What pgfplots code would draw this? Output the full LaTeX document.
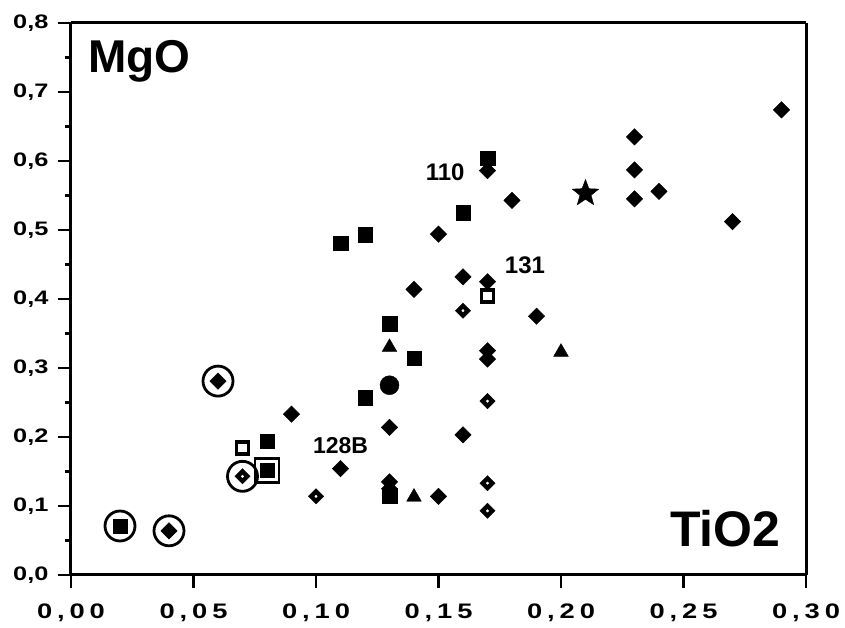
\documentclass[border=0pt]{standalone}
\usepackage{pgfplots}
\pgfplotsset{compat=1.18}
\usepackage{fontspec}
\setmainfont{Liberation Sans}
\newfontfamily\spaced[LetterSpace=18]{Liberation Sans}
% wide bold labels, as in the scanned figure
\newcommand\ytl[1]{\scalebox{1.3}[1]{\fontsize{19.5}{19.5}\selectfont\bfseries #1}}
\newcommand\xtl[1]{\scalebox{1.3}[1]{\fontsize{21}{21}\selectfont\spaced\bfseries #1}}

% filled five-pointed star
\pgfdeclareplotmark{fstar}{%
  \pgfpathmoveto{\pgfpointpolar{90}{\pgfplotmarksize}}%
  \pgfpathlineto{\pgfpointpolar{126}{0.42\pgfplotmarksize}}%
  \pgfpathlineto{\pgfpointpolar{162}{\pgfplotmarksize}}%
  \pgfpathlineto{\pgfpointpolar{198}{0.42\pgfplotmarksize}}%
  \pgfpathlineto{\pgfpointpolar{234}{\pgfplotmarksize}}%
  \pgfpathlineto{\pgfpointpolar{270}{0.42\pgfplotmarksize}}%
  \pgfpathlineto{\pgfpointpolar{306}{\pgfplotmarksize}}%
  \pgfpathlineto{\pgfpointpolar{342}{0.42\pgfplotmarksize}}%
  \pgfpathlineto{\pgfpointpolar{18}{\pgfplotmarksize}}%
  \pgfpathlineto{\pgfpointpolar{54}{0.42\pgfplotmarksize}}%
  \pgfpathclose
  \pgfusepathqfillstroke}

\begin{document}
\begin{tikzpicture}
\begin{axis}[
    width=735pt, height=552pt, scale only axis,
    xmin=0, xmax=0.30, ymin=0, ymax=0.8,
    clip=false,
    separate axis lines,
    axis line style={line width=3pt},
    xtick={0,0.05,0.10,0.15,0.20,0.25,0.30},
    xticklabels={\xtl{0,00},\xtl{0,05},\xtl{0,10},\xtl{0,15},\xtl{0,20},\xtl{0,25},\xtl{0,30}},
    ytick={0,0.1,0.2,0.3,0.4,0.5,0.6,0.7,0.8},
    yticklabels={\ytl{0,0},\ytl{0,1},\ytl{0,2},\ytl{0,3},\ytl{0,4},\ytl{0,5},\ytl{0,6},\ytl{0,7},\ytl{0,8}},
    minor ytick={0.05,0.15,0.25,0.35,0.45,0.55,0.65,0.75},
    xtick pos=left, ytick pos=left,
    tick align=outside,
    major tick length=13pt, minor tick length=6pt,
    every tick/.style={black, line width=2.5pt},
    yticklabel style={xshift=-6pt},
    xticklabel style={yshift=-12pt},
]
% rings and box around some samples
\addplot[only marks, mark=o, mark size=15pt, mark options={line width=2.8pt, black}] coordinates {
    (0.02,0.071) (0.04,0.064) (0.06,0.281) (0.07,0.143)
};
\addplot[only marks, mark=square, mark size=12pt, mark options={line width=2.8pt, black, rounded corners=2pt}] coordinates {
    (0.08,0.152)
};
% filled diamonds
\addplot[only marks, mark=square*, mark size=5.8pt, mark options={rotate=45, rounded corners=1.5pt, fill=black, draw=black}] coordinates {
    (0.04,0.064) (0.06,0.281) (0.09,0.233) (0.11,0.154)
    (0.13,0.214) (0.13,0.135) (0.13,0.125) (0.14,0.414)
    (0.15,0.114) (0.15,0.494) (0.16,0.432) (0.16,0.203)
    (0.17,0.586) (0.17,0.425) (0.17,0.325) (0.17,0.313)
    (0.18,0.543) (0.19,0.375) (0.23,0.635) (0.23,0.587)
    (0.23,0.545) (0.24,0.556) (0.27,0.512) (0.29,0.674)
};
% diamonds with a small open centre
\addplot[only marks, mark=square*, mark size=5.4pt, mark options={rotate=45, rounded corners=1.5pt, fill=black, draw=black}] coordinates {
    (0.07,0.143) (0.10,0.114) (0.16,0.383) (0.17,0.252)
    (0.17,0.133) (0.17,0.093)
};
\addplot[only marks, mark=*, mark size=1.2pt, mark options={fill=white, draw=white}] coordinates {
    (0.07,0.143) (0.10,0.114) (0.16,0.383) (0.17,0.252)
    (0.17,0.133) (0.17,0.093)
};
% filled squares
\addplot[only marks, mark=square*, mark size=7.2pt, mark options={rounded corners=1.5pt, fill=black, draw=black}] coordinates {
    (0.02,0.071) (0.08,0.194) (0.08,0.152) (0.11,0.481)
    (0.12,0.493) (0.12,0.257) (0.13,0.364) (0.13,0.115)
    (0.14,0.314) (0.16,0.525) (0.17,0.604)
};
% open squares
\addplot[only marks, mark=square*, mark size=6pt, mark options={fill=white, draw=black, line width=3.5pt}] coordinates {
    (0.07,0.184) (0.17,0.404)
};
% triangles
\addplot[only marks, mark=triangle*, mark size=8.5pt, mark options={rounded corners=1.5pt, fill=black, draw=black}] coordinates {
    (0.13,0.33) (0.14,0.113) (0.20,0.323)
};
% circle
\addplot[only marks, mark=*, mark size=9.5pt, mark options={fill=black, draw=black}] coordinates {
    (0.13,0.275)
};
% star
\addplot[only marks, mark=fstar, mark size=14pt, mark options={fill=black, draw=black, line join=round}] coordinates {
    (0.21,0.553)
};

\node[font=\fontsize{24}{24}\selectfont\bfseries] at (axis cs:0.1527,0.583) {110};
\node[font=\fontsize{24}{24}\selectfont\bfseries] at (axis cs:0.1853,0.449) {131};
\node[font=\fontsize{23}{23}\selectfont\bfseries] at (axis cs:0.110,0.188) {128B};
\node[font=\fontsize{46}{46}\selectfont\bfseries] at (axis cs:0.0278,0.745) {MgO};
\node[font=\fontsize{50}{50}\selectfont\bfseries] at (axis cs:0.267,0.0667) {TiO2};

\path ([shift={(-71pt,-53pt)}]rel axis cs:0,0) rectangle ([shift={(39pt,23pt)}]rel axis cs:1,1);
\end{axis}
\end{tikzpicture}
\end{document}
